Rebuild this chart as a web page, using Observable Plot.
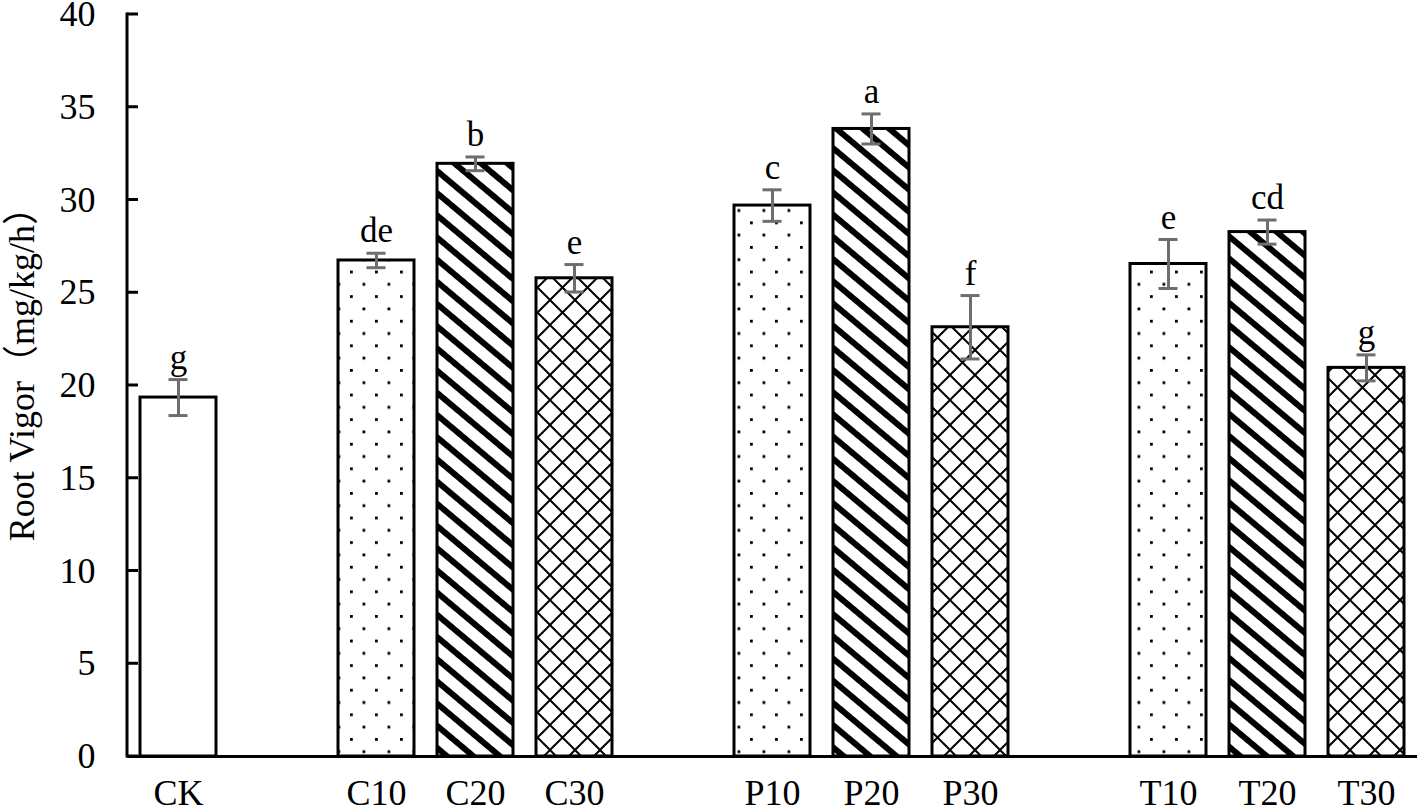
<!DOCTYPE html>
<html><head><meta charset="utf-8">
<script src="https://cdn.jsdelivr.net/npm/d3@7"></script>
<script src="https://cdn.jsdelivr.net/npm/@observablehq/plot@0.6"></script>
<style>body{margin:0;background:#fff} svg{display:block}</style>
</head><body><div id="chart"></div>
<script>
// slots on the x axis (blank slots separate the groups)
const categories = ["CK","_1","C10","C20","C30","_2","P10","P20","P30","_3","T10","T20","T30"];
const groups   = ["CK","C10","C20","C30","P10","P20","P30","T10","T20","T30"];
const values   = [19.35, 26.74, 31.95, 25.78, 29.7, 33.83, 23.14, 26.55, 28.27, 20.95];
const errors   = [0.97, 0.39, 0.37, 0.74, 0.85, 0.81, 1.71, 1.32, 0.65, 0.7];
const letters  = ["g","de","b","e","c","a","f","e","cd","g"];
const patterns = ["plain","dots","stripes","cross","dots","stripes","cross","dots","stripes","cross"];
const yTicks   = [0, 5, 10, 15, 20, 25, 30, 35, 40];
const yLabel   = "Root Vigor（mg/kg/h）";

const data = groups.map((g, i) => ({group: g, v: values[i], e: errors[i], letter: letters[i], pattern: patterns[i]}));
const fills = {plain: "white", dots: "url(#pDots)", stripes: "url(#pStripes)", cross: "url(#pCross)"};

const font = "'Liberation Serif', 'Noto Sans CJK SC', serif";
const W = 1422, H = 812;

const barMarks = Object.keys(fills).map(p =>
  Plot.barY(data.filter(d => d.pattern === p), {x: "group", y: "v", fill: fills[p], stroke: "black", strokeWidth: 3})
);

const plot = Plot.plot({
  width: W, height: H,
  marginLeft: 127, marginRight: 5, marginTop: 14, marginBottom: 56,
  style: {fontFamily: font, background: "white", color: "black", overflow: "visible"},
  x: {type: "band", domain: categories, paddingInner: 0.235, paddingOuter: 0.1175, align: 0.5},
  y: {domain: [0, 40], ticks: yTicks},
  marks: [
    ...barMarks,
    Plot.ruleY([0], {stroke: "black", strokeWidth: 3}),
    Plot.ruleX(data, {x: "group", y1: d => d.v - d.e, y2: d => d.v + d.e, stroke: "#6e6e6e", strokeWidth: 3}),
    Plot.tickY(data, {x: "group", y: d => d.v + d.e, stroke: "#6e6e6e", strokeWidth: 3, insetLeft: 28.5, insetRight: 28.5}),
    Plot.tickY(data, {x: "group", y: d => d.v - d.e, stroke: "#6e6e6e", strokeWidth: 3, insetLeft: 28.5, insetRight: 28.5}),
    Plot.text(data, {x: "group", y: d => d.v + d.e, text: "letter", dy: -11, lineAnchor: "bottom", fontSize: 35, fill: "black"}),
    Plot.axisY({ticks: yTicks, tickSize: 0, tickPadding: 32, fontSize: 36, label: null}),
    Plot.axisX({tickSize: 0, tickPadding: 23, fontSize: 36, label: null, tickFormat: d => d.startsWith("_") ? "" : d}),
    Plot.text([yLabel], {frameAnchor: "left", y: 21.1, dx: -105, rotate: -90, text: d => d, fontSize: 36, textAnchor: "middle", fill: "black"})
  ]
});

// patterns
const svg = d3.select(plot);
const defs = svg.insert("defs", ":first-child");
const pd = defs.append("pattern").attr("id", "pDots").attr("patternUnits", "userSpaceOnUse").attr("width", 25).attr("height", 24.6);
pd.append("rect").attr("width", 25).attr("height", 24.6).attr("fill", "white");
pd.append("rect").attr("x", 0).attr("y", 0).attr("width", 2.8).attr("height", 2.8).attr("fill", "black");
pd.append("rect").attr("x", 12.5).attr("y", 12.3).attr("width", 2.8).attr("height", 2.8).attr("fill", "black");

const ps = defs.append("pattern").attr("id", "pStripes").attr("patternUnits", "userSpaceOnUse").attr("width", 17).attr("height", 17).attr("patternTransform", "rotate(40)");
ps.append("rect").attr("width", 17).attr("height", 17).attr("fill", "white");
ps.append("rect").attr("x", 0).attr("y", 0).attr("width", 17).attr("height", 6).attr("fill", "black");

const pc = defs.append("pattern").attr("id", "pCross").attr("patternUnits", "userSpaceOnUse").attr("width", 25).attr("height", 25);
pc.append("rect").attr("width", 25).attr("height", 25).attr("fill", "white");
pc.append("path").attr("d", "M-3,-3L28,28M28,-3L-3,28").attr("stroke", "black").attr("stroke-width", 2).attr("fill", "none");

// y axis line with inward ticks, via the plot's y scale
const y = plot.scale("y");
const x0 = 127;
const g = svg.append("g").attr("stroke", "black").attr("stroke-width", 3);
g.append("line").attr("x1", x0).attr("x2", x0).attr("y1", y.apply(40) - 1.5).attr("y2", y.apply(0) + 1.5);
yTicks.forEach(t => g.append("line").attr("x1", x0).attr("x2", x0 + 11).attr("y1", y.apply(t)).attr("y2", y.apply(t)));

document.getElementById("chart").appendChild(plot);
</script>
</body></html>
